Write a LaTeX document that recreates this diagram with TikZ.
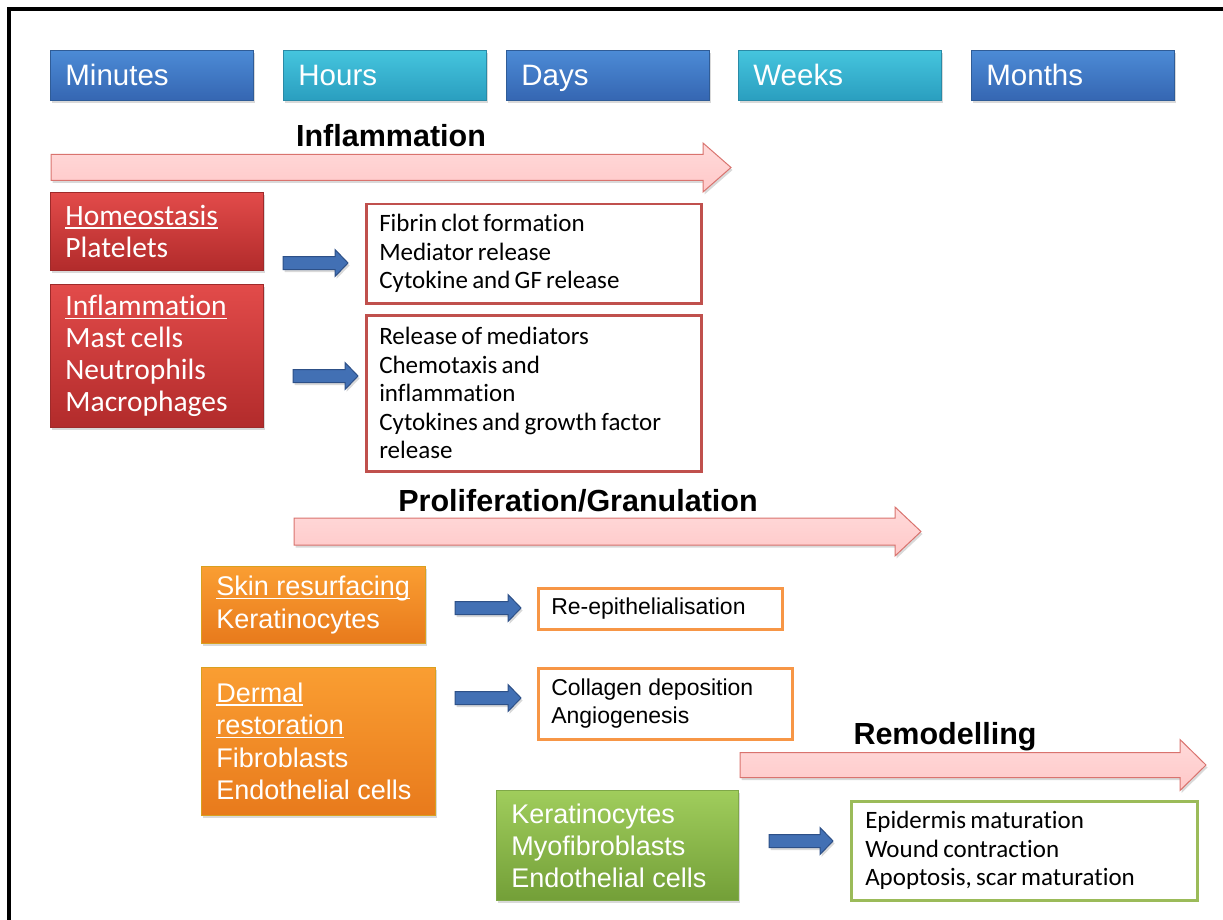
\documentclass[tikz,border=0pt]{standalone}
\usepackage{fontspec}
\setmainfont{Liberation Sans}
\newfontfamily\carl[Ligatures=NoCommon]{Carlito}
\newcommand\carlsp{\spaceskip=0.17em plus 0.05em\relax}
\usetikzlibrary{shadows}
\definecolor{tbluetop}{HTML}{4C8BD6}
\definecolor{tbluebot}{HTML}{3566B2}
\definecolor{tblueline}{HTML}{2F5C97}
\definecolor{tcyantop}{HTML}{45C5DE}
\definecolor{tcyanbot}{HTML}{2A9EBF}
\definecolor{tcyanline}{HTML}{2A8AA6}
\definecolor{redtop}{HTML}{E24B4A}
\definecolor{redbot}{HTML}{B22B2B}
\definecolor{redline}{HTML}{9E2A2A}
\definecolor{orgtop}{HTML}{FA9E32}
\definecolor{orgbot}{HTML}{E87A1C}
\definecolor{orgline}{HTML}{D8A020}
\definecolor{grntop}{HTML}{A0CD5C}
\definecolor{grnbot}{HTML}{739F38}
\definecolor{grnline}{HTML}{7FA848}
\definecolor{redbord}{HTML}{C0504D}
\definecolor{orgbord}{HTML}{F79646}
\definecolor{grnbord}{HTML}{9BBB59}
\definecolor{pinkfill}{HTML}{FFC8C8}
\definecolor{pinktop}{HTML}{FFDADA}
\definecolor{pinkline}{HTML}{D9736E}
\definecolor{arrblue}{HTML}{4270B4}
\definecolor{arrline}{HTML}{2D5087}
\newcommand\myul[1]{\leavevmode\setbox0\hbox{#1}\rlap{\rule[-3.5pt]{\wd0}{1.6pt}}\box0}
\newcommand\fatarrow[7][]{%
  \draw[#1] (#2,#4-#5) -- (#3-#7,#4-#5) -- (#3-#7,#4-#6) -- (#3,#4)
    -- (#3-#7,#4+#6) -- (#3-#7,#4+#5) -- (#2,#4+#5) -- cycle;}
\begin{document}
\begin{tikzpicture}[x=1pt,y=-1pt,
  shad/.style={drop shadow={opacity=0.3,shadow xshift=1.5pt,shadow yshift=-2.5pt}},
  timebox/.style={anchor=north west,minimum width=203,minimum height=50,
    inner xsep=15pt,text width=173,align=flush left,text=white,line width=0.8pt,
    font=\fontsize{29.5}{34}\selectfont,text height=21pt,text depth=0pt,shad},
  tblue/.style={timebox,top color=tbluetop,bottom color=tbluebot,draw=tblueline},
  tcyan/.style={timebox,top color=tcyantop,bottom color=tcyanbot,draw=tcyanline},
  cellbox/.style={anchor=north west,inner xsep=15pt,align=flush left,text=white,line width=0.8pt,shad},
  redbox/.style={cellbox,top color=redtop,bottom color=redbot,draw=redline,
    font=\carl\fontsize{29.5}{32}\selectfont,execute at begin node=\carlsp},
  orgbox/.style={cellbox,top color=orgtop,bottom color=orgbot,draw=orgline,
    font=\fontsize{27}{32.5}\selectfont},
  grnbox/.style={cellbox,top color=grntop,bottom color=grnbot,draw=grnline,
    font=\fontsize{27}{32}\selectfont},
  outbox/.style={anchor=north west,inner xsep=13pt,align=flush left,fill=white,line width=2.5pt},
  carltext/.style={font=\carl\fontsize{25}{28.5}\selectfont,execute at begin node=\carlsp},
  phase/.style={anchor=base,font=\bfseries\fontsize{30.5}{35}\selectfont},
  pinkarrow/.style={draw=pinkline,line width=1pt,top color=pinktop,bottom color=pinkfill,shad},
  bluearrow/.style={draw=arrline,line width=1pt,fill=arrblue,shad}]
\useasboundingbox (0,0) rectangle (1223,920);
% frame
\draw[line width=3.5pt] (9,920) -- (9,9) -- (1223,9);
% time boxes
\node[tblue] (minutes) at (50,50) {Minutes};
\node[tcyan] (hours) at (283,50) {Hours};
\node[tblue] (days) at (506,50) {Days};
\node[tcyan] (weeks) at (738,50) {Weeks};
\node[tblue] (months) at (971,50) {Months};
% phase arrows
\node[phase] (inflam) at (391,147) {Inflammation};
\fatarrow[pinkarrow]{51}{731}{167.5}{13}{24.5}{28}
\node[phase] (prolif) at (578,511) {Proliferation/Granulation};
\fatarrow[pinkarrow]{294}{921}{531.5}{13.5}{24.5}{26}
\node[phase] (remod) at (945,744) {Remodelling};
\fatarrow[pinkarrow]{740}{1206}{765}{12.5}{25.5}{26}
% red boxes
\node[redbox,minimum width=213,minimum height=78,text width=183] (homeo) at (50,192)
  {\myul{Homeostasis}\\Platelets};
\node[redbox,minimum width=213,minimum height=143,text width=183] (inflcells) at (50,284)
  {\myul{Inflammation}\\Mast cells\\Neutrophils\\Macrophages};
\node[outbox,draw=redbord,minimum width=335,minimum height=99,text width=309,carltext] (fibrin) at (365,203)
  {Fibrin clot formation\\Mediator release\\Cytokine and GF release};
\node[outbox,draw=redbord,minimum width=335,minimum height=156,text width=309,carltext] (release) at (365,314)
  {Release of mediators\\Chemotaxis and\\inflammation\\Cytokines and growth factor\\release};
\fatarrow[bluearrow]{283}{348}{263}{6.5}{13.5}{13}
\fatarrow[bluearrow]{293}{358}{376}{6.5}{13.5}{13}
% orange boxes
\node[orgbox,minimum width=224,minimum height=77,text width=194] (skin) at (201,566)
  {\myul{Skin resurfacing}\\Keratinocytes};
\node[orgbox,minimum width=234,minimum height=148,text width=204] (dermal) at (201,667)
  {\myul{Dermal}\\\myul{restoration}\\Fibroblasts\\Endothelial cells};
\node[outbox,draw=orgbord,minimum width=244,minimum height=41,text width=218,
  font=\fontsize{23}{28}\selectfont] (reepi) at (537,587) {Re-epithelialisation};
\node[outbox,draw=orgbord,minimum width=254,minimum height=71,text width=228,
  font=\fontsize{23}{28}\selectfont] (collagen) at (537,667) {Collagen deposition\\Angiogenesis};
\fatarrow[bluearrow]{455}{521}{608}{6.5}{13.5}{13}
\fatarrow[bluearrow]{455}{521}{698}{6.5}{13.5}{13}
% green boxes
\node[grnbox,minimum width=242,minimum height=110,text width=212] (remcells) at (496,790)
  {Keratinocytes\\Myofibroblasts\\Endothelial cells};
\node[outbox,draw=grnbord,inner xsep=14pt,minimum width=346,minimum height=99,text width=318,carltext] (epid) at (850,800)
  {Epidermis maturation\\Wound contraction\\Apoptosis, scar maturation};
\fatarrow[bluearrow]{769}{833}{841}{6.5}{13.5}{13}
\end{tikzpicture}
\end{document}
